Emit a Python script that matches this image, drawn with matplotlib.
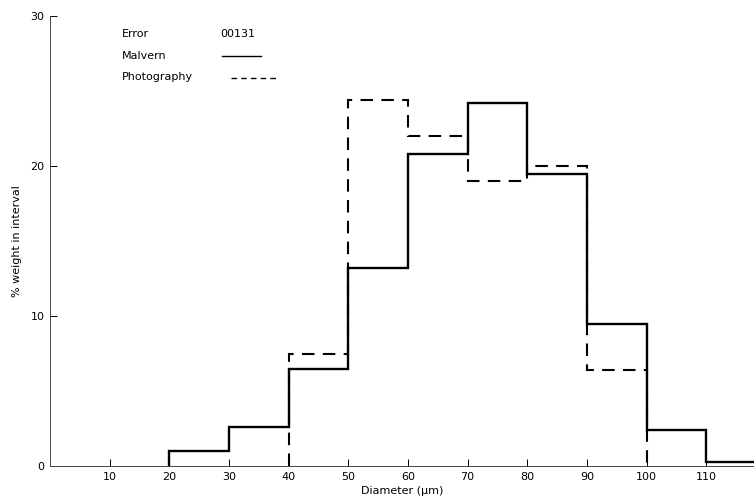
import numpy as np
import matplotlib
matplotlib.use("Agg")
import matplotlib.pyplot as plt

# bin edges (um) and % weight per interval
malvern_edges = [20, 30, 40, 50, 60, 70, 80, 90, 100, 110, 120]
malvern_vals = [1.0, 2.6, 6.5, 13.2, 20.8, 24.2, 19.5, 9.5, 2.4, 0.3]

photo_edges = [40, 50, 60, 70, 80, 90, 100]
photo_vals = [7.5, 24.4, 22.0, 19.0, 20.0, 6.4]

x_ticks = [10, 20, 30, 40, 50, 60, 70, 80, 90, 100, 110]
y_ticks = [0, 10, 20, 30]
error_code = "00131"

fig = plt.figure(figsize=(7.54, 5.04), dpi=100)
ax = fig.add_axes([50 / 754, 38 / 504, 704 / 754, 450 / 504])

ax.stairs(malvern_vals, malvern_edges, baseline=0, color="black", lw=1.7)
ax.stairs(photo_vals, photo_edges, baseline=0, color="black", lw=1.5,
          linestyle=(0, (6, 4)))

ax.set_xlim(0, 118)
ax.set_ylim(0, 30)
ax.set_xticks(x_ticks)
ax.set_yticks(y_ticks)
ax.tick_params(direction="in", length=5, width=0.7, labelsize=8, pad=4)
for s in ["top", "right"]:
    ax.spines[s].set_visible(False)
ax.spines["left"].set_linewidth(0.7)
ax.spines["bottom"].set_linewidth(0.7)
ax.spines["left"].set_color("#444444")
ax.spines["bottom"].set_color("#444444")

ax.set_xlabel("Diameter (\u03bcm)", fontsize=8, labelpad=3)
ax.set_ylabel("% weight in interval", fontsize=8, labelpad=6)

# legend block, drawn by hand like the original
tr = ax.transAxes
ax.text(0.102, 0.96, "Error", transform=tr, fontsize=8, va="center")
ax.text(0.242, 0.96, error_code, transform=tr, fontsize=8, va="center")
ax.text(0.102, 0.912, "Malvern", transform=tr, fontsize=8, va="center")
ax.plot([0.245, 0.30], [0.912, 0.912], transform=tr, color="black", lw=1.0)
ax.text(0.102, 0.864, "Photography", transform=tr, fontsize=8, va="center")
ax.plot([0.257, 0.323], [0.862, 0.862], transform=tr, color="black", lw=1.0,
        linestyle=(0, (4, 3)))

fig.savefig("out.png", dpi=100)
